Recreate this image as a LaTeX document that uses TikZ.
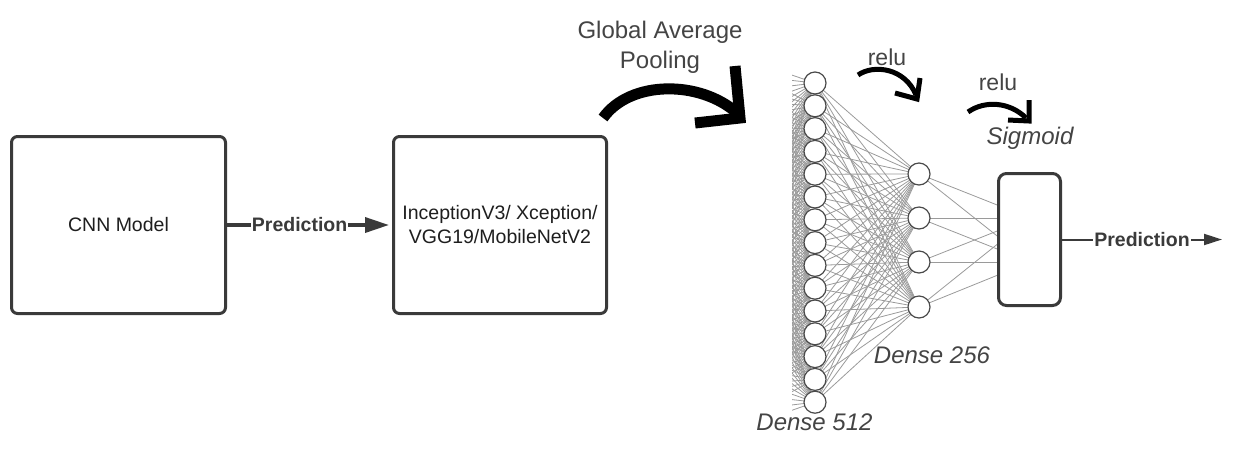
\documentclass[tikz,border=0pt]{standalone}
\usepackage{fontspec}
\setmainfont{Liberation Sans}
\usetikzlibrary{arrows.meta}
\pgfdeclarelayer{background}
\pgfsetlayers{background,main}
\definecolor{boxgray}{HTML}{3A3A3A}
\definecolor{textdark}{HTML}{1E1E1E}
\definecolor{labelgray}{HTML}{444444}
\definecolor{wiregray}{HTML}{9A9A9A}
\definecolor{neurongray}{HTML}{4A4A4A}
\begin{document}
\begin{tikzpicture}[x=1pt,y=-1pt,
  block/.style={draw=boxgray, line width=3pt, rounded corners=6pt, fill=white,
    text=textdark, font=\fontsize{19.5}{24}\selectfont, align=center, inner sep=0pt},
  neuron/.style={circle, draw=neurongray, line width=1.2pt, fill=white,
    minimum size=22pt, inner sep=0pt},
  wire/.style={draw=wiregray, line width=0.8pt},
  flow/.style={draw=boxgray, line width=3.5pt, -{Triangle[length=24pt,width=15pt]}},
  flowthin/.style={draw=boxgray, line width=2pt, -{Triangle[length=18pt,width=11pt]}},
  flowlabel/.style={fill=white, inner sep=1pt, text=boxgray,
    font=\fontsize{19.5}{24}\selectfont\bfseries},
  bigturn/.style={draw=black, line width=11pt, line join=miter},
  smallturn/.style={draw=black, line width=5pt, line join=miter},
  caption/.style={text=labelgray, font=\fontsize{24}{30}\selectfont, align=center},
  layername/.style={text=labelgray, font=\fontsize{24}{30}\selectfont\itshape}
]
\useasboundingbox (0,0) rectangle (1249,475);

% backbone blocks
\node[block, minimum width=214pt, minimum height=177pt] (cnn) at (118.5,225) {CNN Model};
\node[block, minimum width=213pt, minimum height=177pt] (backbone) at (500,225)
  {InceptionV3/ Xception/\\VGG19/MobileNetV2};

\draw[flow, shorten >=3pt] (cnn.east) -- node[flowlabel, pos=0.44] {Prediction} (backbone.west);

% global average pooling turn arrow
\node[caption] (gap) at (660,47) {Global Average\\Pooling};
\coordinate (gapfrom) at (603,118);
\coordinate (gapto) at (737,113);
\draw[bigturn] (gapfrom) .. controls (630,80) and (700,80) .. (gapto);
\draw[bigturn] (735,66) -- (740,118) -- (695,123);

% dense layers
\foreach \i in {1,...,15} {
  \node[neuron] (a\i) at (815,{83+22.8*(\i-1)}) {};
  \coordinate (p\i) at (690,{40+29*(\i-1)});
}
\foreach \j/\y in {1/174,2/218,3/262,4/307} {
  \node[neuron] (b\j) at (919,\y) {};
}
\coordinate (o1) at (1030,218);
\coordinate (o2) at (1030,262);

% output block
\node[block, rounded corners=8pt, minimum width=62pt, minimum height=132pt] (out) at (1029.5,239.5) {};

\begin{pgfonlayer}{background}
  % incoming wires from the preceding layer, cut at the column
  \begin{scope}
    \clip (792,60) rectangle (815,420);
    \foreach \i in {1,...,15} {
      \foreach \k in {1,...,15} {
        \draw[wire] (p\k) -- (a\i.center);
      }
    }
  \end{scope}
  \foreach \i in {1,...,15} {
    \foreach \j in {1,...,4} {
      \draw[wire] (a\i.center) -- (b\j.center);
    }
  }
  \foreach \j in {1,...,4} {
    \draw[wire] (b\j.center) -- (o1);
    \draw[wire] (b\j.center) -- (o2);
  }
\end{pgfonlayer}

% activation arrows and labels
\node[caption, font=\fontsize{23}{28}\selectfont] (relua) at (887,57) {relu};
\draw[smallturn] (858,75) .. controls (874,64) and (905,68) .. (916,95);
\draw[smallturn] (920,78) -- (917,99) -- (895,93);

\node[caption, font=\fontsize{23}{28}\selectfont] (relub) at (998,82) {relu};
\draw[smallturn] (968,112) .. controls (985,100) and (1010,102) .. (1026,118);
\draw[smallturn] (1029,100) -- (1029,121) -- (1008,120);

\node[layername] (sig) at (1030,138) {Sigmoid};
\node[layername] (d256) at (932,355) {Dense 256};
\node[layername] (d512) at (814.5,422) {Dense 512};

% final prediction
\coordinate (end) at (1222,239.5);
\draw[flowthin] (out.east) -- node[flowlabel, pos=0.5] {Prediction} (end);
\end{tikzpicture}
\end{document}
